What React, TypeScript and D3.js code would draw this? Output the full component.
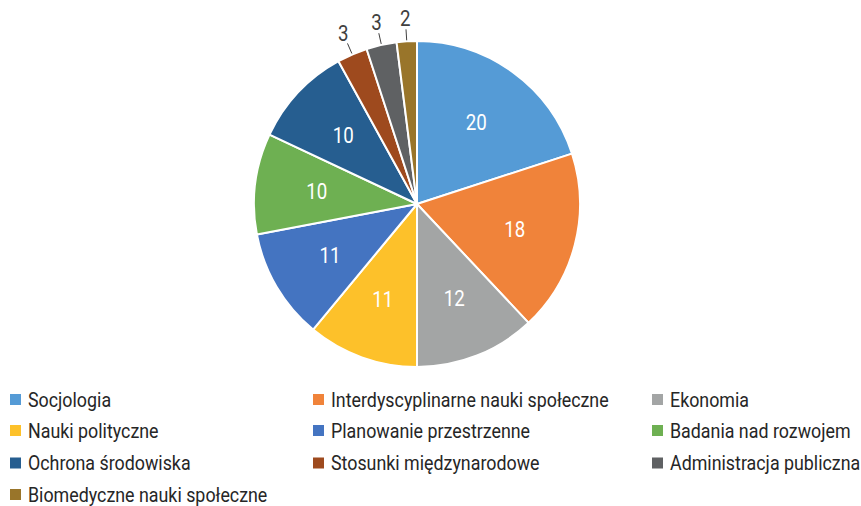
import * as d3 from "d3";
import React, { useEffect, useRef } from "react";

const categories = [
  "Socjologia",
  "Interdyscyplinarne nauki społeczne",
  "Ekonomia",
  "Nauki polityczne",
  "Planowanie przestrzenne",
  "Badania nad rozwojem",
  "Ochrona środowiska",
  "Stosunki międzynarodowe",
  "Administracja publiczna",
  "Biomedyczne nauki społeczne",
];
const values = [20, 18, 12, 11, 11, 10, 10, 3, 3, 2];
const colors = [
  "#559BD6",
  "#F0833A",
  "#A3A5A5",
  "#FDC12A",
  "#4474C1",
  "#6EB052",
  "#265E90",
  "#9E4A1E",
  "#5F6163",
  "#99752A",
];

const CONFIG = {
  width: 861,
  height: 506,
  cx: 417,
  cy: 204,
  radius: 163,
  labelRadius: 101,
  outsideRadius: 186,
  font: "Roboto, 'Liberation Sans', sans-serif",
  squeeze: 0.85,
  legendCols: [10, 313, 652],
  legendRows: [399.5, 430.5, 463, 494.5],
};

interface Slice {
  name: string;
  value: number;
  color: string;
}

const App: React.FC = () => {
  const svgRef = useRef<SVGSVGElement>(null);

  useEffect(() => {
    const svg = d3.select(svgRef.current);
    svg.selectAll("*").remove();

    const data: Slice[] = categories.map((name, i) => ({
      name,
      value: values[i],
      color: colors[i],
    }));

    const pie = d3
      .pie<Slice>()
      .value((d) => d.value)
      .sort(null);
    const arcs = pie(data);

    const arc = d3
      .arc<d3.PieArcDatum<Slice>>()
      .innerRadius(0)
      .outerRadius(CONFIG.radius);

    const g = svg
      .append("g")
      .attr("transform", `translate(${CONFIG.cx},${CONFIG.cy})`);

    g.selectAll("path")
      .data(arcs)
      .enter()
      .append("path")
      .attr("d", arc)
      .attr("fill", (d) => d.data.color)
      .attr("stroke", "white")
      .attr("stroke-width", 2)
      .attr("stroke-linejoin", "round");

    const mid = (d: d3.PieArcDatum<Slice>) => (d.startAngle + d.endAngle) / 2;
    const polar = (a: number, r: number) => [Math.sin(a) * r, -Math.cos(a) * r];

    // condensed text: squeeze a regular font horizontally
    const label = (
      parent: d3.Selection<SVGGElement, unknown, null, undefined>,
      x: number,
      y: number,
      txt: string | number,
      fill: string,
      size: number,
      anchor: string
    ) => {
      parent
        .append("g")
        .attr("transform", `translate(${x},${y}) scale(${CONFIG.squeeze},1)`)
        .append("text")
        .attr("dy", "0.35em")
        .attr("text-anchor", anchor)
        .attr("fill", fill)
        .attr("font-family", CONFIG.font)
        .attr("font-size", size)
        .text(txt);
    };

    // inside labels
    arcs
      .filter((d) => d.data.value >= 5)
      .forEach((d) => {
        const [x, y] = polar(mid(d), CONFIG.labelRadius);
        // @ts-ignore
        label(g, x, y, d.data.value, "white", 22, "middle");
      });

    // outside labels with leader lines
    arcs
      .filter((d) => d.data.value < 5)
      .forEach((d) => {
        const a = mid(d);
        const [x1, y1] = polar(a, CONFIG.radius + 1);
        const [x2, y2] = polar(a, CONFIG.radius + 12);
        g.append("line")
          .attr("x1", x1)
          .attr("y1", y1)
          .attr("x2", x2)
          .attr("y2", y2)
          .attr("stroke", "#404040")
          .attr("stroke-width", 1);
        const [x, y] = polar(a, CONFIG.outsideRadius);
        // @ts-ignore
        label(g, x, y, d.data.value, "#404040", 22, "middle");
      });

    // legend
    const legend = svg.append("g");
    data.forEach((d, i) => {
      const col = i % 3;
      const row = Math.floor(i / 3);
      const x = CONFIG.legendCols[col];
      const y = CONFIG.legendRows[row];
      legend
        .append("rect")
        .attr("x", x)
        .attr("y", y - 5.5)
        .attr("width", 11)
        .attr("height", 11)
        .attr("fill", d.color);
      // @ts-ignore
      label(legend, x + 18, y, d.name, "#262626", 21, "start");
    });
  }, []);

  return (
    <svg
      ref={svgRef}
      width={CONFIG.width}
      height={CONFIG.height}
      style={{ position: "absolute", left: 0, top: 0 }}
    />
  );
};

export default App;
